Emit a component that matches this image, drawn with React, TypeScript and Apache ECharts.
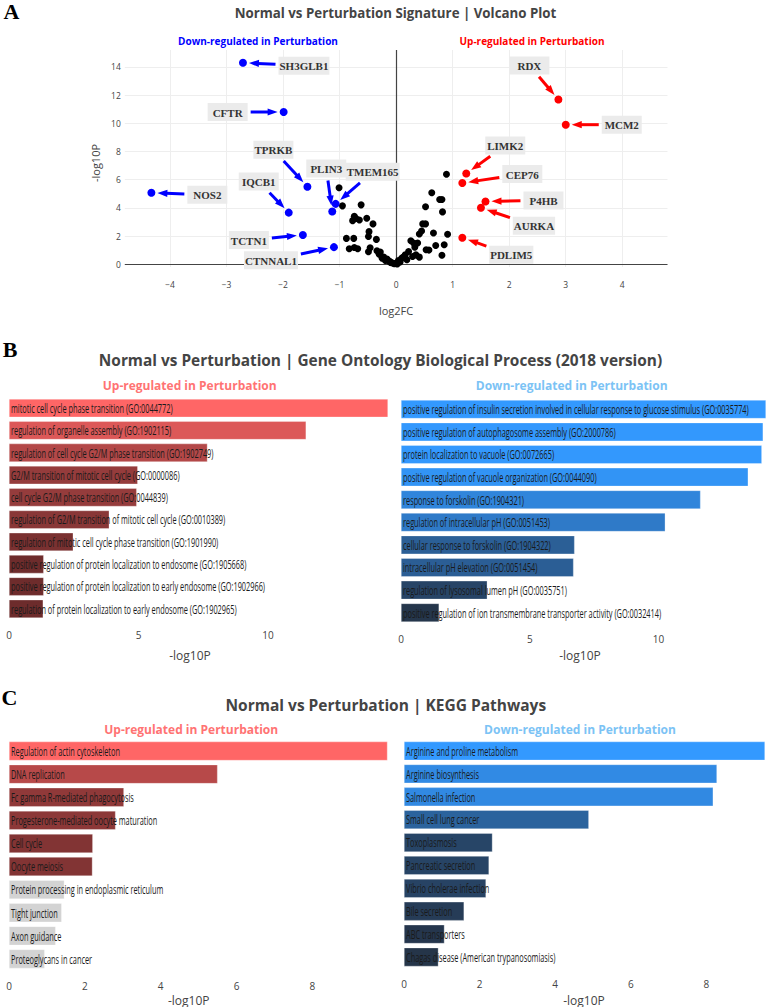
import React, { useEffect, useRef } from "react";
import * as echarts from "echarts";

// ---------------- Panel A: volcano plot ----------------
const downGenes = ["SH3GLB1", "CFTR", "NOS2", "TPRKB", "IQCB1", "PLIN3", "TMEM165", "TCTN1", "CTNNAL1"];
const downLog2FC = [-2.71, -1.99, -4.33, -1.57, -1.9, -1.13, -1.07, -1.65, -1.1];
const downLog10P = [14.3, 10.8, 5.07, 5.5, 3.66, 3.74, 4.28, 2.07, 1.21];

const upGenes = ["RDX", "MCM2", "LIMK2", "CEP76", "P4HB", "AURKA", "PDLIM5"];
const upLog2FC = [2.87, 3.0, 1.24, 1.17, 1.58, 1.5, 1.17];
const upLog10P = [11.69, 9.9, 6.43, 5.76, 4.45, 4.0, 1.88];

const otherLog2FC = [
  -1.01, -0.95, -0.62, -0.77, -0.74, -0.71, -0.65, -0.52, -0.41, -0.48, -0.49, -0.88, -0.75, -0.35,
  -0.83, -0.74, -0.68, -0.46, -0.49, -0.34, -0.28, -0.3, -0.22, -0.25, -0.19, -0.16, -0.13, -0.11,
  -0.1, -0.08, -0.05, -0.03,
  0.89, 0.63, 0.77, 0.81, 0.52, 0.82, 0.47, 0.52, 0.45, 0.41, 0.66, 0.91, 0.26, 0.31, 0.38, 0.7,
  0.85, 0.53, 0.58, 0.33, 0.35, 0.41, 0.29, 0.81, 0.22, 0.16, 0.19, 0.1, 0.13, 0.07, 0.04, 0.02, 0.0,
];
const otherLog10P = [
  5.43, 4.14, 4.21, 3.09, 3.4, 3.24, 3.14, 3.26, 2.86, 2.31, 1.97, 1.83, 1.83, 1.76,
  1.09, 1.19, 1.09, 1.16, 0.88, 0.95, 0.86, 0.7, 0.5, 0.43, 0.26, 0.36, 0.22, 0.19,
  0.12, 0.1, 0.07, 0.03,
  6.38, 5.07, 4.59, 4.59, 4.07, 3.71, 2.86, 2.86, 2.36, 2.14, 2.21, 2.12, 1.66, 1.5, 1.5, 1.33,
  1.38, 1.02, 1.0, 1.21, 0.66, 0.5, 0.54, 0.64, 0.9, 0.66, 0.31, 0.43, 0.5, 0.15, 0.26, 0.02, 0.07,
];

// label placement relative to the point, in pixels (layout only)
const downLabelOffsets = [[61, 3], [-56, 0], [56, 2], [-34, -37], [-30, -31], [-6, -43], [37, -32], [-54, 5], [-63, 13]];
const upLabelOffsets = [[-29, -34], [56, 0], [39, -28], [60, -9], [58, -1], [53, 18], [49, 17]];

// ---------------- Panel B: GO Biological Process ----------------
const goUpTerms = [
  "mitotic cell cycle phase transition (GO:0044772)",
  "regulation of organelle assembly (GO:1902115)",
  "regulation of cell cycle G2/M phase transition (GO:1902749)",
  "G2/M transition of mitotic cell cycle (GO:0000086)",
  "cell cycle G2/M phase transition (GO:0044839)",
  "regulation of G2/M transition of mitotic cell cycle (GO:0010389)",
  "regulation of mitotic cell cycle phase transition (GO:1901990)",
  "positive regulation of protein localization to endosome (GO:1905668)",
  "positive regulation of protein localization to early endosome (GO:1902966)",
  "regulation of protein localization to early endosome (GO:1902965)",
];
const goUpLog10P = [14.63, 11.47, 7.66, 4.97, 4.93, 3.87, 2.48, 1.34, 1.34, 1.32];

const goDownTerms = [
  "positive regulation of insulin secretion involved in cellular response to glucose stimulus (GO:0035774)",
  "positive regulation of autophagosome assembly (GO:2000786)",
  "protein localization to vacuole (GO:0072665)",
  "positive regulation of vacuole organization (GO:0044090)",
  "response to forskolin (GO:1904321)",
  "regulation of intracellular pH (GO:0051453)",
  "cellular response to forskolin (GO:1904322)",
  "intracellular pH elevation (GO:0051454)",
  "regulation of lysosomal lumen pH (GO:0035751)",
  "positive regulation of ion transmembrane transporter activity (GO:0032414)",
];
const goDownLog10P = [14.17, 14.06, 14.01, 13.48, 11.63, 10.26, 6.74, 6.7, 3.35, 1.48];

// ---------------- Panel C: KEGG ----------------
const keggUpTerms = [
  "Regulation of actin cytoskeleton",
  "DNA replication",
  "Fc gamma R-mediated phagocytosis",
  "Progesterone-mediated oocyte maturation",
  "Cell cycle",
  "Oocyte meiosis",
  "Protein processing in endoplasmic reticulum",
  "Tight junction",
  "Axon guidance",
  "Proteoglycans in cancer",
];
const keggUpLog10P = [9.98, 5.5, 3.03, 2.81, 2.21, 2.2, 1.46, 1.39, 1.23, 0.94];
const keggUpSignificant = [true, true, true, true, true, true, false, false, false, false];

const keggDownTerms = [
  "Arginine and proline metabolism",
  "Arginine biosynthesis",
  "Salmonella infection",
  "Small cell lung cancer",
  "Toxoplasmosis",
  "Pancreatic secretion",
  "Vibrio cholerae infection",
  "Bile secretion",
  "ABC transporters",
  "Chagas disease (American trypanosomiasis)",
];
const keggDownLog10P = [9.55, 8.28, 8.18, 4.89, 2.34, 2.25, 2.17, 1.59, 1.07, 0.91];

// ---------------- helpers ----------------
const SANS = '"Open Sans", "DejaVu Sans", sans-serif';
const LABEL_FONT = '12px "Open Sans", sans-serif';
const LABEL_SAMPLE_WIDTH = 162; // condensed width of the first GO label in the figure
const ANN_FONT = 'bold 11px "Liberation Serif", "Times New Roman", serif';

let measureCtx: CanvasRenderingContext2D | null = null;
function textWidth(t: string, font: string): number {
  if (!measureCtx) {
    const c = document.createElement("canvas");
    measureCtx = c.getContext("2d");
  }
  if (!measureCtx) return t.length * 7;
  measureCtx.font = font;
  return measureCtx.measureText(t).width;
}

function lerpColor(a: number[], b: number[], t: number) {
  const c = a.map((v, i) => Math.round(v + (b[i] - v) * t));
  return `rgb(${c[0]},${c[1]},${c[2]})`;
}
const RED_LOW = [95, 38, 38];
const RED_HIGH = [255, 102, 102];
const BLUE_LOW = [35, 42, 54];
const BLUE_HIGH = [51, 153, 255];

function makeAnnotation(genes: string[], offsets: number[][], color: string) {
  return (params: any, api: any) => {
    const i = params.dataIndex;
    const p = api.coord([api.value(0), api.value(1)]);
    const [dx, dy] = offsets[i];
    const cx = p[0] + dx;
    const cy = p[1] + dy;
    const name = genes[i];
    const w = Math.max(40, textWidth(name, ANN_FONT) + 2);
    const h = 18;
    const vx = p[0] - cx;
    const vy = p[1] - cy;
    const len = Math.hypot(vx, vy) || 1;
    const ux = vx / len;
    const uy = vy / len;
    const tEdge = Math.min(
      Math.abs(ux) > 1e-6 ? w / 2 / Math.abs(ux) : Infinity,
      Math.abs(uy) > 1e-6 ? h / 2 / Math.abs(uy) : Infinity
    );
    const gap = 3;
    const standoff = 6;
    const headLen = 10;
    const headHalf = 3.6;
    const sx = cx + ux * (tEdge + gap);
    const sy = cy + uy * (tEdge + gap);
    const tx = p[0] - ux * standoff;
    const ty = p[1] - uy * standoff;
    const bx = tx - ux * headLen;
    const by = ty - uy * headLen;
    const nx = -uy;
    const ny = ux;
    return {
      type: "group",
      children: [
        {
          type: "line",
          shape: { x1: sx, y1: sy, x2: bx + ux * 1.5, y2: by + uy * 1.5 },
          style: { stroke: color, lineWidth: 3 },
        },
        {
          type: "polygon",
          shape: {
            points: [
              [tx, ty],
              [bx + nx * headHalf, by + ny * headHalf],
              [bx - nx * headHalf, by - ny * headHalf],
            ],
          },
          style: { fill: color },
        },
        {
          type: "rect",
          shape: { x: cx - w / 2, y: cy - h / 2, width: w, height: h },
          style: { fill: "#ebebeb" },
        },
        {
          type: "text",
          style: {
            text: name,
            x: cx,
            y: cy + 0.5,
            align: "center",
            verticalAlign: "middle",
            font: ANN_FONT,
            fill: "#333",
          },
        },
      ],
    };
  };
}

function barSeries(terms: string[], values: number[], idx: number, colorFn: (v: number, i: number) => string) {
  return {
    type: "bar",
    xAxisIndex: idx,
    yAxisIndex: idx,
    barCategoryGap: "18%",
    data: values.map((v, i) => ({ name: terms[i], value: v, itemStyle: { color: colorFn(v, i) } })),
    itemStyle: { borderColor: "rgba(255,255,255,0.6)", borderWidth: 0.5 },
    silent: true,
  };
}

// condensed term labels drawn at the start of each bar
function labelSeries(terms: string[], idx: number, scaleX: number) {
  return {
    type: "custom",
    xAxisIndex: idx,
    yAxisIndex: idx,
    z: 4,
    clip: false,
    silent: true,
    data: terms.map((_t, i) => [0, i]),
    encode: { x: 0, y: 1 },
    renderItem: (params: any, api: any) => {
      const p = api.coord([0, params.dataIndex]);
      return {
        type: "text",
        x: p[0] + 2,
        y: p[1],
        scaleX,
        style: {
          text: terms[params.dataIndex],
          x: 0,
          y: 0,
          align: "left",
          verticalAlign: "middle",
          font: LABEL_FONT,
          fill: "#1a1a1a",
        },
      };
    },
  };
}

function barX(idx: number, interval: number) {
  return {
    type: "value",
    gridIndex: idx,
    min: 0,
    max: "dataMax",
    interval,
    axisLine: { show: false },
    axisTick: { show: false },
    splitLine: { show: false },
    axisLabel: { fontFamily: SANS, fontSize: 10, color: "#444", margin: 10, showMaxLabel: false },
  };
}

function barY(idx: number, terms: string[]) {
  return { type: "category", gridIndex: idx, data: terms, inverse: true, show: false };
}

function txt(text: string, x: number, y: number, font: string, fill: string, rotation = 0) {
  return {
    type: "text",
    x,
    y,
    rotation,
    silent: true,
    style: { text, x: 0, y: 0, align: "center", verticalAlign: "middle", font, fill },
  };
}

const minus = (v: number) => String(v).replace("-", "\u2212");

export default function App() {
  const ref = useRef<HTMLDivElement>(null);
  useEffect(() => {
    if (!ref.current) return;
    const chart = echarts.init(ref.current, undefined, { renderer: "svg" });
    const upMax = Math.max(...goUpLog10P);
    const downMax = Math.max(...goDownLog10P);
    const kUpMax = Math.max(...keggUpLog10P);
    const kDownMax = Math.max(...keggDownLog10P);
    const labelScale = LABEL_SAMPLE_WIDTH / textWidth(goUpTerms[0], LABEL_FONT);

    const option: any = {
      animation: false,
      backgroundColor: "#ffffff",
      grid: [
        { left: 124.8, top: 50, width: 542.7, height: 217, outerBoundsMode: "none" },
        { left: 9, top: 397, width: 379, height: 223, outerBoundsMode: "none" },
        { left: 401, top: 398, width: 365, height: 226, outerBoundsMode: "none" },
        { left: 9, top: 739.5, width: 378.5, height: 231, outerBoundsMode: "none" },
        { left: 404, top: 739.5, width: 361, height: 229, outerBoundsMode: "none" },
      ],
      xAxis: [
        {
          type: "value",
          gridIndex: 0,
          min: -4.8,
          max: 4.8,
          splitNumber: 10,
          axisLine: { show: false },
          axisTick: { show: false },
          splitLine: { show: true, lineStyle: { color: "#eeeeee", width: 1 }, showMinLine: false, showMaxLine: false },
          axisLabel: {
            fontFamily: SANS,
            fontSize: 8.5,
            color: "#444",
            margin: 13,
            showMinLabel: false,
            showMaxLabel: false,
            formatter: minus,
          },
        },
        barX(1, 5),
        barX(2, 5),
        barX(3, 2),
        barX(4, 2),
      ],
      yAxis: [
        {
          type: "value",
          gridIndex: 0,
          min: -0.2,
          max: 15.2,
          splitNumber: 8,
          axisLine: { show: false },
          axisTick: { show: false },
          splitLine: { show: true, lineStyle: { color: "#eeeeee", width: 1 }, showMinLine: false, showMaxLine: false },
          axisLabel: {
            fontFamily: SANS,
            fontSize: 8.5,
            color: "#444",
            margin: 4,
            showMinLabel: false,
            showMaxLabel: false,
            formatter: minus,
          },
        },
        barY(1, goUpTerms),
        barY(2, goDownTerms),
        barY(3, keggUpTerms),
        barY(4, keggDownTerms),
      ],
      series: [
        {
          type: "scatter",
          xAxisIndex: 0,
          yAxisIndex: 0,
          z: 3,
          symbolSize: 7,
          itemStyle: { color: "#000000", opacity: 1 },
          data: otherLog2FC.map((x, i) => [x, otherLog10P[i]]),
          clip: false,
          silent: true,
          markLine: {
            z: 1,
            silent: true,
            symbol: ["none", "none"],
            label: { show: false },
            lineStyle: { color: "#444", width: 1.2, type: "solid" },
            data: [{ xAxis: 0 }, { yAxis: 0 }],
          },
        },
        {
          type: "scatter",
          xAxisIndex: 0,
          yAxisIndex: 0,
          z: 3,
          symbolSize: 8,
          itemStyle: { color: "#0000ff", opacity: 1 },
          data: downLog2FC.map((x, i) => [x, downLog10P[i]]),
          silent: true,
        },
        {
          type: "scatter",
          xAxisIndex: 0,
          yAxisIndex: 0,
          z: 3,
          symbolSize: 8,
          itemStyle: { color: "#ff0000", opacity: 1 },
          data: upLog2FC.map((x, i) => [x, upLog10P[i]]),
          silent: true,
        },
        {
          type: "custom",
          xAxisIndex: 0,
          yAxisIndex: 0,
          z: 5,
          clip: false,
          silent: true,
          renderItem: makeAnnotation(downGenes, downLabelOffsets, "#0000ff"),
          data: downLog2FC.map((x, i) => [x, downLog10P[i]]),
        },
        {
          type: "custom",
          xAxisIndex: 0,
          yAxisIndex: 0,
          z: 5,
          clip: false,
          silent: true,
          renderItem: makeAnnotation(upGenes, upLabelOffsets, "#ff0000"),
          data: upLog2FC.map((x, i) => [x, upLog10P[i]]),
        },
        barSeries(goUpTerms, goUpLog10P, 1, (v) => lerpColor(RED_LOW, RED_HIGH, v / upMax)),
        barSeries(goDownTerms, goDownLog10P, 2, (v) => lerpColor(BLUE_LOW, BLUE_HIGH, v / downMax)),
        barSeries(keggUpTerms, keggUpLog10P, 3, (v, i) =>
          keggUpSignificant[i] ? lerpColor(RED_LOW, RED_HIGH, v / kUpMax) : "#d3d3d3"
        ),
        barSeries(keggDownTerms, keggDownLog10P, 4, (v) => lerpColor(BLUE_LOW, BLUE_HIGH, v / kDownMax)),
        labelSeries(goUpTerms, 1, labelScale),
        labelSeries(goDownTerms, 2, labelScale),
        labelSeries(keggUpTerms, 3, labelScale),
        labelSeries(keggDownTerms, 4, labelScale),
      ],
      graphic: [
        txt("A", 11.5, 11, 'bold 22px "Liberation Serif", serif', "#000"),
        txt("B", 10, 349, 'bold 22px "Liberation Serif", serif', "#000"),
        txt("C", 9.5, 697, 'bold 22px "Liberation Serif", serif', "#000"),
        txt("Normal vs Perturbation Signature | Volcano Plot", 395.5, 13, `bold 13.3px ${SANS}`, "#444"),
        txt("Down-regulated in Perturbation", 258, 41, `bold 10px ${SANS}`, "#0000ff"),
        txt("Up-regulated in Perturbation", 532, 41, `bold 10px ${SANS}`, "#ff0000"),
        txt("-log10P", 95, 163, `11px ${SANS}`, "#444", Math.PI / 2),
        txt("log2FC", 396, 310.5, `11px ${SANS}`, "#444"),
        txt(
          "Normal vs Perturbation | Gene Ontology Biological Process (2018 version)",
          380.5,
          360.5,
          `bold 15.4px ${SANS}`,
          "#444"
        ),
        txt("Up-regulated in Perturbation", 189.7, 385.5, `bold 12px ${SANS}`, "#ff7373"),
        txt("Down-regulated in Perturbation", 571.7, 385.5, `bold 12px ${SANS}`, "#7cc3f5"),
        txt("-log10P", 190, 655, `12px ${SANS}`, "#444"),
        txt("-log10P", 580, 655, `12px ${SANS}`, "#444"),
        txt("Normal vs Perturbation | KEGG Pathways", 385.8, 704.5, `bold 15.5px ${SANS}`, "#444"),
        txt("Up-regulated in Perturbation", 191.2, 729, `bold 12px ${SANS}`, "#ff7373"),
        txt("Down-regulated in Perturbation", 580, 729, `bold 12px ${SANS}`, "#7cc3f5"),
        txt("-log10P", 188.7, 1000, `12px ${SANS}`, "#444"),
        txt("-log10P", 584, 1000, `12px ${SANS}`, "#444"),
      ],
    };
    chart.setOption(option);
    return () => chart.dispose();
  }, []);
  return (
    <div
      ref={ref}
      style={{ position: "absolute", left: 0, top: 0, width: 768, height: 1007, background: "#fff" }}
    />
  );
}
